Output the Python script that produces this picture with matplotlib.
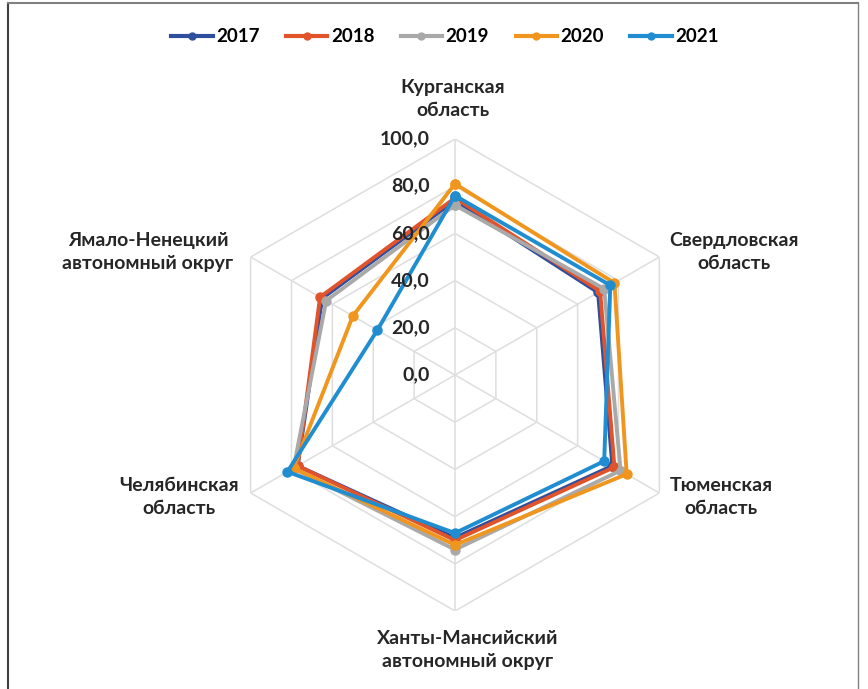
"""Radar chart of regional index values, 2017-2021."""

import numpy as np
import matplotlib.pyplot as plt
from matplotlib.lines import Line2D

REGIONS = [
    "Курганская\nобласть",
    "Свердловская\nобласть",
    "Тюменская\nобласть",
    "Ханты-Мансийский\nавтономный округ",
    "Челябинская\nобласть",
    "Ямало-Ненецкий\nавтономный округ",
]
YEARS = ["2017", "2018", "2019", "2020", "2021"]

v2017 = [74, 70, 77, 69, 77, 65]
v2018 = [75, 71, 78, 70, 77, 66]
v2019 = [72, 73, 81, 74, 79, 63]
v2020 = [81, 78, 84, 72, 79, 50]
v2021 = [76, 76, 73, 67, 82, 38]
SERIES = [v2017, v2018, v2019, v2020, v2021]

COLORS = ["#2E4E9E", "#E0532B", "#A9A9A9", "#F0961E", "#1F8DCF"]
RTICKS = [0, 20, 40, 60, 80, 100]

W, H = 868, 689
plt.rcParams["font.family"] = ["Lato", "DejaVu Sans"]
plt.rcParams["font.weight"] = "bold"

fig = plt.figure(figsize=(W / 100, H / 100), dpi=100)

# centre of the chart ~ (455, 375) px, radius for 100 ~ 236 px
cx, cy, rad = 455, 375, 236
ax = fig.add_axes([(cx - rad) / W, (H - cy - rad) / H, 2 * rad / W, 2 * rad / H],
                  projection="polar")
ax.set_theta_offset(np.pi / 2)
ax.set_theta_direction(-1)
ax.set_ylim(0, 100)
ax.grid(False)
ax.spines["polar"].set_visible(False)
ax.set_xticks([])
ax.set_yticks([])
ax.set_facecolor("none")

n = len(REGIONS)
angles = np.linspace(0, 2 * np.pi, n, endpoint=False)
closed = np.append(angles, angles[0])

# hexagonal grid
for r in RTICKS[1:]:
    ax.plot(closed, [r] * (n + 1), color="#DEDEDE", lw=1.1, zorder=1)
for a in angles:
    ax.plot([a, a], [0, 100], color="#DEDEDE", lw=1.1, zorder=1)

for vals, col, yr in zip(SERIES, COLORS, YEARS):
    ax.plot(closed, vals + vals[:1], color=col, lw=2.8, marker="o", ms=6.5,
            zorder=3, label=yr)

# radial tick labels, right-aligned left of the vertical axis
for r in RTICKS:
    y = cy - r * rad / 100
    fig.text(430 / W, 1 - y / H, f"{r:.1f}".replace(".", ","), ha="right",
             va="center", fontsize=14, fontweight="bold", color="#262626")

# category labels
label_pos = [(453, 99), (734, 252), (721, 497), (468, 650), (179, 497), (148, 252)]
for text, (x, y) in zip(REGIONS, label_pos):
    fig.text(x / W, 1 - y / H, text, ha="center", va="center", fontsize=14,
             fontweight="bold", color="#262626", linespacing=1.45)

handles = [Line2D([], [], color=c, lw=3, marker="o", ms=5) for c in COLORS]
fig.legend(handles, YEARS, loc="center", bbox_to_anchor=(445 / W, 1 - 37 / H),
           ncol=5, frameon=False, fontsize=13.5, handlelength=2.2,
           columnspacing=1.4, handletextpad=0.2)

# chart-area frame (left, top, right)
fig.add_artist(Line2D([8 / W, 8 / W], [0, 1 - 3 / H], color="#404040", lw=1.5))
fig.add_artist(Line2D([8 / W, 858 / W], [1 - 3 / H, 1 - 3 / H], color="#808080", lw=1.5))
fig.add_artist(Line2D([858 / W, 858 / W], [0, 1 - 3 / H], color="#808080", lw=1.0))

fig.savefig("out.png", dpi=100)
